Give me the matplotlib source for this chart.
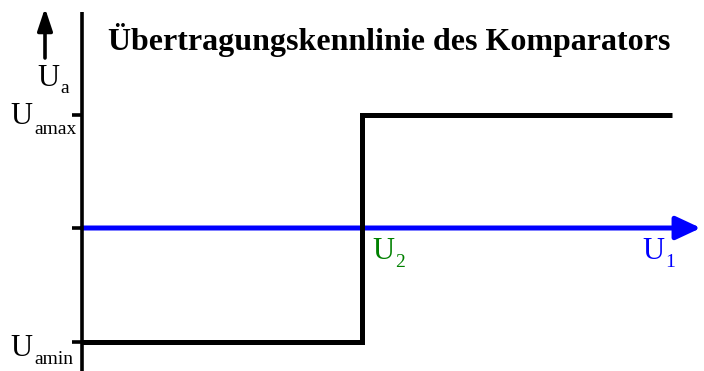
import matplotlib
matplotlib.use("Agg")
import matplotlib.pyplot as plt

# ---- data (normalized units) ----
u1_vals = [0.0, 1.0, 1.0, 2.107]      # input voltage U1 (U2 threshold = 1)
ua_vals = [-1.0, -1.0, 1.0, 1.0]      # output voltage Ua (Uamin=-1, Uamax=+1)
u2_threshold = 1.0
ua_levels = [1.0, 0.0, -1.0]          # tick positions on the Ua axis
title_text = "Übertragungskennlinie des Komparators"
x_axis_end = 2.21

plt.rcParams['font.family'] = ['Liberation Serif', 'DejaVu Serif']

W, H = 704, 371
fig = plt.figure(figsize=(W / 100, H / 100), dpi=100)
ax = fig.add_axes([0, 0, 1, 1])
ax.set_axis_off()

x0px, y0px = 82, 228
sx, sy = 280.0, 113.5
ax.set_xlim(-x0px / sx, (W - x0px) / sx)
ax.set_ylim(-(H - y0px) / sy, y0px / sy)


def px(x):
    return (x - x0px) / sx


def py(y):
    return (y0px - y) / sy


# vertical Ua axis line
ax.plot([0, 0], [py(H + 5), py(12)], color='black', lw=2.6,
        solid_capstyle='butt', zorder=3)
# ticks
for lv in ua_levels:
    ax.plot([-10 / sx, 0], [lv, lv], color='black', lw=2.6, solid_capstyle='butt', zorder=3)

# blue U1 axis with arrow
ax.annotate('', xy=(x_axis_end, 0), xytext=(0, 0),
            arrowprops=dict(arrowstyle='-|>,head_length=1.5,head_width=0.7',
                            color='#0000FF', lw=3.6, shrinkA=0, shrinkB=0),
            zorder=2)

# step characteristic
ax.plot(u1_vals, ua_vals, color='black', lw=3.6, solid_joinstyle='miter',
        solid_capstyle='butt', zorder=4)

# Ua arrow (separate)
ax.annotate('', xy=(px(45), py(8)), xytext=(px(45), py(58)),
            arrowprops=dict(arrowstyle='-|>,head_length=1.35,head_width=0.45',
                            color='black', lw=2.6, shrinkA=0, shrinkB=0))

fsU, fsS = 22, 14


def label(xu, yu, sub, xs, ys, color='black'):
    ax.text(px(xu), py(yu), 'U', fontsize=fsU, color=color, ha='left', va='baseline')
    ax.text(px(xs), py(ys), sub, fontsize=fsS, color=color, ha='left', va='baseline')


label(37, 86, 'a', 60, 93)
label(10, 124, 'amax', 34, 134)
label(10, 356, 'amin', 34, 364)
label(372, 259, '2', 395, 267, color='#008000')
label(642, 259, '1', 665, 267, color='#0000FF')

ax.text(px(389), py(50), title_text, fontsize=23,
        fontweight='bold', ha='center', va='baseline')

fig.savefig('out.png', dpi=100)
